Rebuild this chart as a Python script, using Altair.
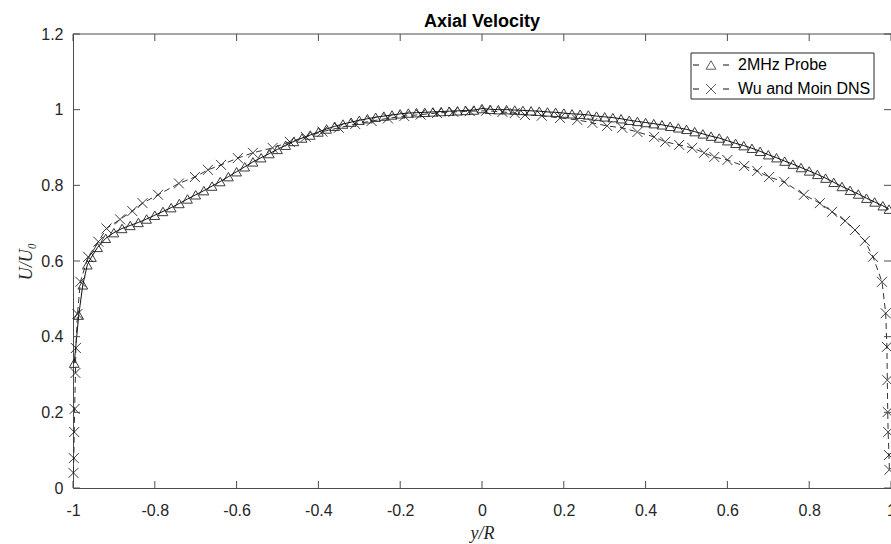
import altair as alt
import pandas as pd

# ---------------- data ----------------
x_ticks = [-1, -0.8, -0.6, -0.4, -0.2, 0, 0.2, 0.4, 0.6, 0.8, 1]
y_ticks = [0, 0.2, 0.4, 0.6, 0.8, 1, 1.2]
series_names = ["2MHz Probe", "Wu and Moin DNS"]
chart_title = "Axial Velocity"
x_title = "y/R"
y_title = "U/U\u2080"

probe_x = [-0.997, -0.986, -0.976, -0.965, -0.955, -0.94, -0.92, -0.90, -0.88, -0.86,
           -0.84, -0.82, -0.80, -0.78, -0.76, -0.74, -0.72, -0.70, -0.68, -0.66,
           -0.64, -0.62, -0.60, -0.58, -0.56, -0.54, -0.52, -0.50, -0.48, -0.46,
           -0.44, -0.42, -0.40, -0.38, -0.36, -0.34, -0.32, -0.30, -0.28, -0.26,
           -0.24, -0.22, -0.20, -0.18, -0.16, -0.14, -0.12, -0.10, -0.08, -0.06,
           -0.04, -0.02, 0.00, 0.02, 0.04, 0.06, 0.08, 0.10, 0.12, 0.14,
           0.16, 0.18, 0.20, 0.22, 0.24, 0.26, 0.28, 0.30, 0.32, 0.34,
           0.36, 0.38, 0.40, 0.42, 0.44, 0.46, 0.48, 0.50, 0.52, 0.54,
           0.56, 0.58, 0.60, 0.62, 0.64, 0.66, 0.68, 0.70, 0.72, 0.74,
           0.76, 0.78, 0.80, 0.82, 0.84, 0.86, 0.88, 0.90, 0.92, 0.94,
           0.96, 0.98, 0.995]
probe_u = [0.330, 0.457, 0.537, 0.590, 0.610, 0.636, 0.660, 0.675, 0.686, 0.694,
           0.702, 0.711, 0.721, 0.731, 0.741, 0.752, 0.764, 0.775, 0.786, 0.798,
           0.810, 0.823, 0.836, 0.849, 0.862, 0.873, 0.884, 0.895, 0.906, 0.916,
           0.925, 0.933, 0.941, 0.949, 0.956, 0.962, 0.967, 0.972, 0.976, 0.980,
           0.983, 0.986, 0.989, 0.991, 0.992, 0.993, 0.994, 0.995, 0.996, 0.997,
           0.998, 0.999, 1.003, 1.001, 1.000, 1.000, 0.999, 0.998, 0.997, 0.996,
           0.994, 0.993, 0.991, 0.989, 0.988, 0.986, 0.983, 0.981, 0.979, 0.976,
           0.972, 0.969, 0.966, 0.963, 0.960, 0.956, 0.952, 0.948, 0.942, 0.936,
           0.930, 0.925, 0.918, 0.911, 0.905, 0.898, 0.890, 0.881, 0.873, 0.864,
           0.856, 0.847, 0.838, 0.829, 0.819, 0.808, 0.797, 0.787, 0.777, 0.766,
           0.756, 0.746, 0.737]

dns_x = [-0.999, -0.998, -0.997, -0.996, -0.994, -0.993, -0.989, -0.982, -0.963, -0.938,
         -0.918, -0.885, -0.855, -0.830, -0.792, -0.741, -0.702, -0.670, -0.638, -0.597,
         -0.560, -0.512, -0.470, -0.431, -0.39, -0.35, -0.31, -0.27, -0.23, -0.19,
         -0.15, -0.11, -0.07, -0.03, 0.01, 0.05, 0.08, 0.105, 0.146, 0.191,
         0.233, 0.270, 0.306, 0.343, 0.380, 0.421, 0.448, 0.482, 0.514, 0.543,
         0.568, 0.600, 0.641, 0.673, 0.702, 0.739, 0.787, 0.826, 0.856, 0.888,
         0.912, 0.936, 0.956, 0.978, 0.987, 0.990, 0.991, 0.992, 0.993, 0.995,
         0.996]
dns_u = [0.040, 0.079, 0.148, 0.209, 0.304, 0.370, 0.460, 0.545, 0.611, 0.651,
         0.686, 0.710, 0.732, 0.753, 0.775, 0.805, 0.822, 0.841, 0.854, 0.872,
         0.886, 0.899, 0.915, 0.928, 0.942, 0.952, 0.962, 0.970, 0.977, 0.983,
         0.987, 0.991, 0.994, 0.996, 0.997, 0.994, 0.991, 0.986, 0.984, 0.978,
         0.973, 0.965, 0.957, 0.952, 0.941, 0.928, 0.915, 0.907, 0.899, 0.886,
         0.875, 0.867, 0.851, 0.838, 0.822, 0.809, 0.775, 0.753, 0.730, 0.706,
         0.682, 0.653, 0.611, 0.545, 0.462, 0.373, 0.285, 0.201, 0.148, 0.087,
         0.048]

# ---------------- layout / style ----------------
W, H = 818, 454
FONT = "Liberation Sans"
SERIF = "Liberation Serif"
TXT = "#262626"
AX = "#4d4d4d"
TICK = 7
CROSS = "M-1,-1L1,1M-1,1L1,-1"
TRI_SIZE, CROSS_SIZE = 95, 100

probe = pd.DataFrame({"x": probe_x, "u": probe_u, "i": list(range(len(probe_x)))})
dns = pd.DataFrame({"x": dns_x, "u": dns_u, "i": list(range(len(dns_x)))})
xt = pd.DataFrame({"x": x_ticks})
yt = pd.DataFrame({"u": y_ticks})
one = pd.DataFrame({"k": [0]})

xs = alt.Scale(domain=[-1, 1], nice=False, zero=False)
ys = alt.Scale(domain=[0, 1.2], nice=False, zero=False)

lab_expr = "(datum.value < 0 ? '-' : '') + format(abs(datum.value), '~g')"

x_axis = alt.Axis(
    values=x_ticks, ticks=False, grid=False, domainColor=AX, domainWidth=1,
    labelExpr=lab_expr, labelFlush=False, labelOverlap=False,
    labelFont=FONT, labelFontSize=16, labelColor=TXT, labelPadding=14,
    title=x_title, titleFont=SERIF, titleFontStyle="italic", titleFontWeight="normal",
    titleFontSize=18, titleColor=TXT, titleX=W / 2, titleY=50,
    titleBaseline="alphabetic", titleAlign="center",
)
y_axis = alt.Axis(
    values=y_ticks, ticks=False, grid=False, domainColor=AX, domainWidth=1,
    labelExpr=lab_expr, labelFlush=False, labelOverlap=False,
    labelFont=FONT, labelFontSize=16, labelColor=TXT, labelPadding=10,
    title=y_title, titleFont=SERIF, titleFontStyle="italic", titleFontWeight="normal",
    titleFontSize=18, titleColor=TXT, titleX=-42, titleY=H / 2, titleAngle=270,
    titleBaseline="alphabetic", titleAlign="center",
)


def X():
    return alt.X("x:Q", scale=xs, axis=x_axis)


def Y():
    return alt.Y("u:Q", scale=ys, axis=y_axis)


probe_line = alt.Chart(probe).mark_line(color="#111111", strokeWidth=1).encode(
    x=X(), y=Y(), order="i:Q")
probe_pts = alt.Chart(probe).mark_point(
    shape="triangle-up", filled=False, stroke="#1a1a1a", strokeWidth=1, size=TRI_SIZE, opacity=0.85
).encode(x=X(), y=Y())
dns_line = alt.Chart(dns).mark_line(color="#333333", strokeWidth=1, strokeDash=[6, 4]).encode(
    x=X(), y=Y(), order="i:Q")
dns_pts = alt.Chart(dns).mark_point(
    shape=CROSS, filled=False, stroke="#1a1a1a", strokeWidth=1, size=CROSS_SIZE, opacity=0.85
).encode(x=X(), y=Y())

# inward ticks and top frame
xt_bottom = alt.Chart(xt).mark_rule(color=AX, strokeWidth=1).encode(
    x=X(), y=alt.value(H), y2=alt.value(H - TICK))
xt_top = alt.Chart(xt).mark_rule(color=AX, strokeWidth=1).encode(
    x=X(), y=alt.value(0), y2=alt.value(TICK))
yt_left = alt.Chart(yt).mark_rule(color=AX, strokeWidth=1).encode(
    y=Y(), x=alt.value(0), x2=alt.value(TICK))
yt_right = alt.Chart(yt).mark_rule(color=AX, strokeWidth=1).encode(
    y=Y(), x=alt.value(W - TICK), x2=alt.value(W))
top_frame = alt.Chart(one).mark_rule(color=AX, strokeWidth=1).encode(
    x=alt.value(0), x2=alt.value(W), y=alt.value(0))
title_txt = alt.Chart(one).mark_text(
    align="center", baseline="alphabetic", font=FONT, fontSize=18, fontWeight="bold", color="black"
).encode(x=alt.value(W / 2), y=alt.value(-7), text=alt.value(chart_title))

# legend (manual, MATLAB style)
LX0, LX1, LY0, LY1 = 618, 801, 19, 65
rows = [31, 55]
leg = [alt.Chart(one).mark_rect(fill="white", stroke=TXT, strokeWidth=1).encode(
    x=alt.value(LX0), x2=alt.value(LX1), y=alt.value(LY0), y2=alt.value(LY1))]
for r, name, shape, sz in zip(rows, series_names, ["triangle-up", CROSS], [TRI_SIZE, CROSS_SIZE]):
    leg.append(alt.Chart(one).mark_rule(color="#111111", strokeWidth=1).encode(
        x=alt.value(620), x2=alt.value(626), y=alt.value(r)))
    leg.append(alt.Chart(one).mark_rule(color="#111111", strokeWidth=1).encode(
        x=alt.value(650), x2=alt.value(656), y=alt.value(r)))
    leg.append(alt.Chart(one).mark_point(shape=shape, filled=False, stroke="#1a1a1a",
                                         strokeWidth=1, size=sz).encode(
        x=alt.value(638), y=alt.value(r)))
    leg.append(alt.Chart(one).mark_text(align="left", baseline="middle", font=FONT,
                                        fontSize=16, color="black").encode(
        x=alt.value(665), y=alt.value(r), text=alt.value(name)))

chart = alt.layer(
    probe_line, probe_pts, dns_line, dns_pts,
    xt_bottom, xt_top, yt_left, yt_right, top_frame, title_txt, *leg
).properties(
    width=W, height=H,
    autosize=alt.AutoSizeParams(type="none"),
    padding={"left": 73, "top": 34, "right": 0, "bottom": 56},
).configure_view(stroke=None)

chart.save("out.html", embed_options={"renderer": "svg", "actions": False})
